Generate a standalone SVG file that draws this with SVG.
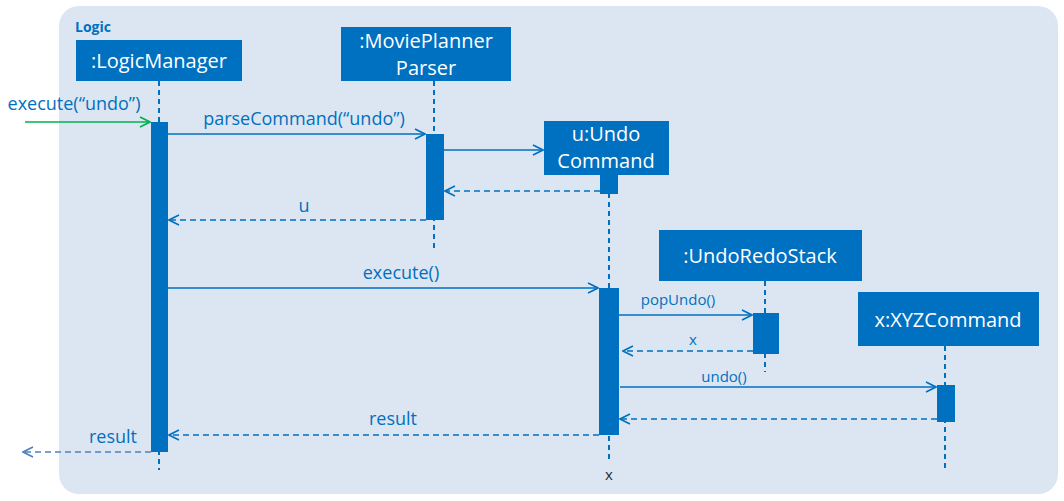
<svg xmlns="http://www.w3.org/2000/svg" width="1064" height="501" viewBox="0 0 1064 501">
<style>
.box{fill:#0070C0}
.bt{fill:#fff;font-family:"Open Sans","Liberation Sans",sans-serif;font-size:20px;text-anchor:middle}
.life{stroke:#0070C0;stroke-width:2;stroke-dasharray:5,4;fill:none}
.msg{stroke:#0070C0;stroke-width:1.6;fill:none}
.ret{stroke:#0070C0;stroke-width:1.6;fill:none;stroke-dasharray:6,4}
.lbl{fill:#0070C0;font-family:"Open Sans","Liberation Sans",sans-serif;font-size:18px;text-anchor:middle}
.sm{font-size:15px}
</style>
<defs>
<marker id="ah" viewBox="0 0 12 12" refX="11" refY="6" markerWidth="12" markerHeight="12" markerUnits="userSpaceOnUse" orient="auto">
<path d="M1,1 L11,6 L1,11" fill="none" stroke="#0070C0" stroke-width="1.6"/>
</marker>
<marker id="ahg" viewBox="0 0 12 12" refX="11" refY="6" markerWidth="12" markerHeight="12" markerUnits="userSpaceOnUse" orient="auto">
<path d="M1,1 L11,6 L1,11" fill="none" stroke="#00B050" stroke-width="1.6"/>
</marker>
<marker id="ahl" viewBox="0 0 12 12" refX="11" refY="6" markerWidth="12" markerHeight="12" markerUnits="userSpaceOnUse" orient="auto">
<path d="M1,1 L11,6 L1,11" fill="none" stroke="#4F81BD" stroke-width="1.6"/>
</marker>
</defs>
<rect x="59" y="6" width="999" height="488" rx="20" fill="#DCE6F2"/>
<text x="75" y="32" fill="#0070C0" font-family="'Open Sans','Liberation Sans',sans-serif" font-size="14" font-weight="bold">Logic</text>

<g id="logicManager">
<line class="life" x1="159" y1="81" x2="159" y2="470"/>
<rect class="box" x="76" y="40" width="166" height="41"/>
<text class="bt" x="159" y="68">:LogicManager</text>
<rect class="box" x="151" y="122" width="17" height="330"/>
</g>

<g id="parser">
<line class="life" x1="434" y1="81" x2="434" y2="248"/>
<rect class="box" x="341" y="27" width="170" height="54"/>
<text class="bt" x="426" y="48">:MoviePlanner</text>
<text class="bt" x="426" y="75">Parser</text>
<rect class="box" x="426" y="134" width="18" height="86"/>
</g>

<g id="undoCommand">
<line class="life" x1="609" y1="175" x2="609" y2="460"/>
<rect class="box" x="544" y="121" width="125" height="54"/>
<text class="bt" x="606" y="141">u:Undo</text>
<text class="bt" x="606" y="168">Command</text>
<rect class="box" x="600" y="175" width="18" height="19"/>
<rect class="box" x="599" y="288" width="20" height="147"/>
<text x="609" y="480" fill="#1F2D3D" font-family="'Open Sans','Liberation Sans',sans-serif" font-size="15" text-anchor="middle">x</text>
</g>

<g id="undoRedoStack">
<line class="life" x1="765" y1="281" x2="765" y2="372"/>
<rect class="box" x="659" y="230" width="203" height="51"/>
<text class="bt" x="760" y="263">:UndoRedoStack</text>
<rect class="box" x="753" y="313" width="26" height="41"/>
</g>

<g id="xyzCommand">
<line class="life" x1="945" y1="346" x2="945" y2="470"/>
<rect class="box" x="858" y="292" width="181" height="54"/>
<text class="bt" x="948" y="327">x:XYZCommand</text>
<rect class="box" x="937" y="385" width="18" height="37"/>
</g>

<g id="connectors">
<line x1="25" y1="122" x2="150" y2="122" stroke="#00B050" stroke-width="1.6" marker-end="url(#ahg)"/>
<text class="lbl" x="74" y="110">execute(“undo”)</text>
<line class="msg" x1="168" y1="134" x2="425" y2="134" marker-end="url(#ah)"/>
<text class="lbl" x="304" y="125">parseCommand(“undo”)</text>
<line class="msg" x1="444" y1="150" x2="543" y2="150" marker-end="url(#ah)"/>
<line class="ret" x1="600" y1="191" x2="445" y2="191" marker-end="url(#ah)"/>
<line class="ret" x1="426" y1="220" x2="169" y2="220" marker-end="url(#ah)"/>
<text class="lbl" x="304" y="212">u</text>
<line class="msg" x1="168" y1="288" x2="598" y2="288" marker-end="url(#ah)"/>
<text class="lbl" x="401" y="279">execute()</text>
<line class="msg" x1="619" y1="315" x2="752" y2="315" marker-end="url(#ah)"/>
<text class="lbl sm" x="678" y="305">popUndo()</text>
<line class="ret" x1="753" y1="351" x2="623" y2="351" marker-end="url(#ah)"/>
<text class="lbl sm" x="693" y="345">x</text>
<line class="msg" x1="620" y1="387" x2="936" y2="387" marker-end="url(#ah)"/>
<text class="lbl sm" x="724" y="382">undo()</text>
<line class="ret" x1="937" y1="419" x2="620" y2="419" marker-end="url(#ah)"/>
<line class="ret" x1="599" y1="435" x2="169" y2="435" marker-end="url(#ah)"/>
<text class="lbl" x="393" y="425">result</text>
<line x1="151" y1="452" x2="23" y2="452" stroke="#4F81BD" stroke-width="1.6" stroke-dasharray="6,4" marker-end="url(#ahl)"/>
<text class="lbl" x="113" y="443">result</text>
</g>
</svg>
